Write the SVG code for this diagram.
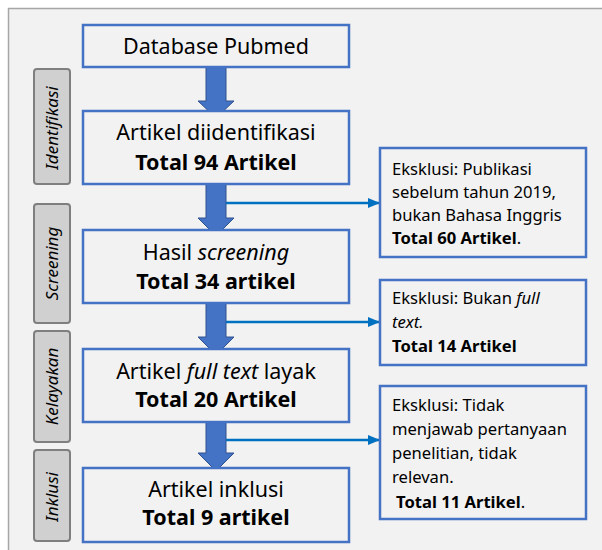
<svg xmlns="http://www.w3.org/2000/svg" width="602" height="550" viewBox="0 0 602 550">
<defs>
<style>
.frame{fill:#f2f2f2;stroke:#a6a6a6;stroke-width:1.5}
.box{fill:#f2f2f2;stroke:#4472c4;stroke-width:2.5}
.lbl{fill:#d0d0d0;stroke:#7f7f7f;stroke-width:2}
.barrow{fill:#4472c4;stroke:#2f528f;stroke-width:1}
.conn{stroke:#0070c0;stroke-width:2.5;fill:none}
text{font-family:"Noto Sans","Liberation Sans",sans-serif;fill:#000}
.m{font-size:21.5px;text-anchor:middle}
.mb{font-size:21.5px;text-anchor:middle;font-weight:bold}
.s{font-size:16.6px}
.sb{font-size:16.6px;font-weight:bold}
.v{font-size:17px;font-style:italic;text-anchor:middle}
</style>
<marker id="ah" markerWidth="12" markerHeight="10" refX="12" refY="5" orient="auto" markerUnits="userSpaceOnUse">
<path d="M0,0 L12,5 L0,10 Z" fill="#0070c0"/>
</marker>
</defs>
<rect x="8.5" y="8.5" width="600" height="550" class="frame"/>

<g id="label-identifikasi"><rect x="34" y="69" width="36" height="115" rx="3" class="lbl"/><text class="v" transform="translate(57.5,128) rotate(-90)">Identifikasi</text></g>
<g id="label-screening"><rect x="34" y="204" width="36" height="119" rx="3" class="lbl"/><text class="v" transform="translate(57.5,263.5) rotate(-90)">Screening</text></g>
<g id="label-kelayakan"><rect x="34" y="331" width="36" height="111" rx="3" class="lbl"/><text class="v" transform="translate(57.5,386.5) rotate(-90)">Kelayakan</text></g>
<g id="label-inklusi"><rect x="34" y="450" width="36" height="91" rx="3" class="lbl"/><text class="v" transform="translate(57.5,497) rotate(-90)">Inklusi</text></g>

<g id="connectors">
<path class="barrow" d="M206,67 H226 V101 H234 L216,118 L198,101 H206 Z"/>
<path class="barrow" d="M206,184 H226 V218 H234 L216,236 L198,218 H206 Z"/>
<path class="barrow" d="M206,303 H226 V337 H234 L216,355 L198,337 H206 Z"/>
<path class="barrow" d="M206,422 H226 V453 H234 L216,471 L198,453 H206 Z"/>
<line class="conn" x1="226" y1="203" x2="380" y2="203" marker-end="url(#ah)"/>
<line class="conn" x1="226" y1="322" x2="380" y2="322" marker-end="url(#ah)"/>
<line class="conn" x1="226" y1="440" x2="380" y2="440" marker-end="url(#ah)"/>
</g>

<g id="n-database"><rect x="83" y="25" width="266" height="42" class="box"/><text class="m" x="216" y="54">Database Pubmed</text></g>
<g id="n-identifikasi"><rect x="83" y="111" width="266" height="73" class="box"/><text class="m" x="216" y="140">Artikel diidentifikasi</text><text class="mb" x="216" y="170">Total 94 Artikel</text></g>
<g id="n-screening"><rect x="83" y="230" width="266" height="73" class="box"/><text class="m" x="216" y="260">Hasil <tspan font-style="italic">screening</tspan></text><text class="mb" x="216" y="289">Total 34 artikel</text></g>
<g id="n-kelayakan"><rect x="83" y="349" width="266" height="73" class="box"/><text class="m" x="216" y="379">Artikel <tspan font-style="italic">full text</tspan> layak</text><text class="mb" x="216" y="407">Total 20 Artikel</text></g>
<g id="n-inklusi"><rect x="83" y="468" width="266" height="74" class="box"/><text class="m" x="216" y="497">Artikel inklusi</text><text class="mb" x="216" y="525">Total 9 artikel</text></g>

<g id="ex-1"><rect x="380" y="148" width="206" height="109" class="box"/>
<text class="s" x="392" y="175">Eksklusi: Publikasi</text>
<text class="s" x="392" y="198">sebelum tahun 2019,</text>
<text class="s" x="392" y="221">bukan Bahasa Inggris</text>
<text class="s" x="392" y="244"><tspan font-weight="bold">Total 60 Artikel</tspan>.</text></g>
<g id="ex-2"><rect x="380" y="280" width="206" height="85" class="box"/>
<text class="s" x="392" y="304">Eksklusi: Bukan <tspan font-style="italic">full</tspan></text>
<text class="s" x="392" y="328" font-style="italic">text.</text>
<text class="sb" x="392" y="352">Total 14 Artikel</text></g>
<g id="ex-3"><rect x="380" y="386" width="206" height="133" class="box"/>
<text class="s" x="392" y="411">Eksklusi: Tidak</text>
<text class="s" x="392" y="435">menjawab pertanyaan</text>
<text class="s" x="392" y="459">penelitian, tidak</text>
<text class="s" x="392" y="483">relevan.</text>
<text class="s" x="396" y="508"><tspan font-weight="bold">Total 11 Artikel</tspan>.</text></g>
</svg>
